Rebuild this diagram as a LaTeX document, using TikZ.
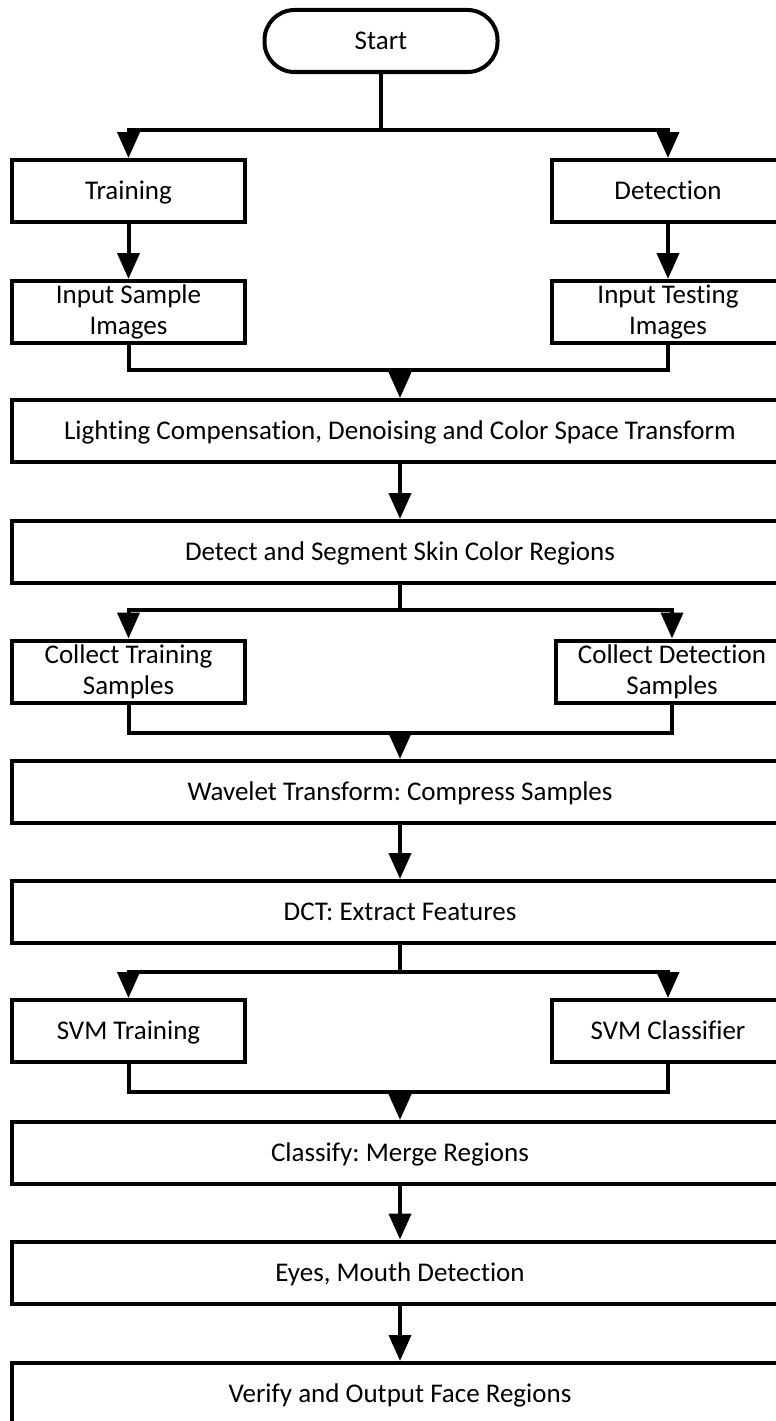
\documentclass[tikz,border=0pt]{standalone}
\usepackage{fontspec}
\setmainfont{Carlito}[Ligatures={NoCommon}]
\usetikzlibrary{arrows.meta,positioning}
\frenchspacing

\begin{document}
\begin{tikzpicture}[x=1pt,y=-1pt,
  box/.style={draw,line width=4pt,minimum height=62pt,inner sep=0pt,align=center,
    font=\fontsize{27}{31}\selectfont},
  single/.style={text height=20pt,text depth=2.6pt},
  side/.style={box,minimum width=233pt},
  wide/.style={box,single,minimum width=776pt},
  term/.style={box,single,rounded corners=30pt,minimum width=233pt},
  line/.style={line width=4pt,line join=miter},
  arr/.style={line,-{Triangle[length=26pt,width=22pt]}}]
\clip (0,0) rectangle (776,1421);
% boxes
\node[term] (start) at (381,41) {Start};
\node[side,single] (train) at (128.5,191) {Training};
\node[side,single] (detect) at (668,191) {Detection};
\node[side] (insample) at (128.5,312) {Input Sample\\Images};
\node[side] (intest) at (668,312) {Input Testing\\Images};
\node[wide] (light) at (400,431) {Lighting Compensation, Denoising and Color Space Transform};
\node[wide] (skin) at (400,552) {Detect and Segment Skin Color Regions};
\node[side] (coltrain) at (128.5,671.5) {Collect Training\\Samples};
\node[side] (coldetect) at (672,671.5) {Collect Detection\\Samples};
\node[wide] (wavelet) at (400,792) {Wavelet Transform: Compress Samples};
\node[wide] (dct) at (400,912) {DCT: Extract Features};
\node[side,single] (svmtrain) at (128.5,1031) {SVM Training};
\node[side,single] (svmclass) at (668,1031) {SVM Classifier};
\node[wide] (classify) at (400,1153) {Classify: Merge Regions};
\node[wide] (eyes) at (400,1272.5) {Eyes, Mouth Detection};
\node[wide] (verify) at (400,1394) {Verify and Output Face Regions};
% junctions
\coordinate (split1) at (381,130);
\coordinate (merge1) at (400,370);
\coordinate (split2) at (400,610);
\coordinate (merge2) at (400,733);
\coordinate (split3) at (400,972);
\coordinate (merge3) at (400,1092);
% connectors
\draw[line] (start) -- (split1);
\draw[arr] (split1) -| (train);
\draw[arr] (split1) -| (detect);
\draw[arr] (train) -- (insample);
\draw[arr] (detect) -- (intest);
\draw[line] (insample) |- (merge1) -| (intest);
\draw[arr] (merge1) -- (light);
\draw[arr] (light) -- (skin);
\draw[line] (skin) -- (split2);
\draw[arr] (split2) -| (coltrain);
\draw[arr] (split2) -| (coldetect);
\draw[line] (coltrain) |- (merge2) -| (coldetect);
\draw[arr] (merge2) -- (wavelet);
\draw[arr] (wavelet) -- (dct);
\draw[line] (dct) -- (split3);
\draw[arr] (split3) -| (svmtrain);
\draw[arr] (split3) -| (svmclass);
\draw[line] (svmtrain) |- (merge3) -| (svmclass);
\draw[arr] (merge3) -- (classify);
\draw[arr] (classify) -- (eyes);
\draw[arr] (eyes) -- (verify);
\end{tikzpicture}
\end{document}
